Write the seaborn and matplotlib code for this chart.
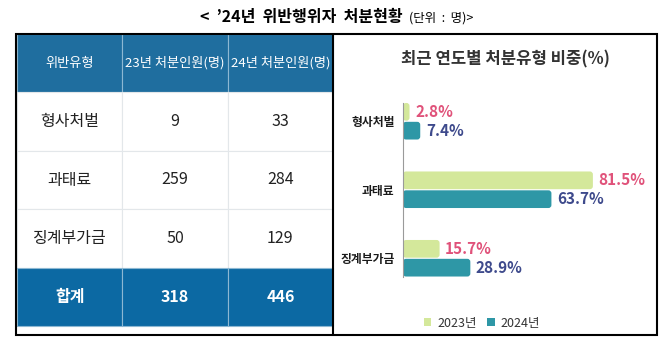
import numpy as np
import pandas as pd
import matplotlib
matplotlib.use('Agg')
import matplotlib.pyplot as plt
import seaborn as sns
from matplotlib.patches import FancyBboxPatch, Rectangle
from matplotlib.lines import Line2D

# data
types = ['형사처벌', '과태료', '징계부가금']
count_2023 = [9, 259, 50]
count_2024 = [33, 284, 129]
total_2023 = 318
total_2024 = 446
share_2023 = [2.8, 81.5, 15.7]
share_2024 = [7.4, 63.7, 28.9]
years = ['2023년', '2024년']
header = ['위반유형', '23년 처분인원(명)', '24년 처분인원(명)']

sns.set_theme(style='white')
plt.rcParams['font.family'] = ['Noto Sans CJK KR', 'DejaVu Sans']

W, H = 669, 350
fig = plt.figure(figsize=(W / 100, H / 100), dpi=100)
fig.patch.set_facecolor('white')


def box(x0, y0, x1, y1):
    # pixel box (top-left origin) -> figure fraction rect
    return [x0 / W, 1 - y1 / H, (x1 - x0) / W, (y1 - y0) / H]


# title
fig.text(403 / W, 1 - 17 / H, "<  \u201924년  위반행위자  처분현황", ha='right', va='center',
         fontsize=11.5, fontweight='bold', color='black')
fig.text(409 / W, 1 - 18 / H, "(단위  :  명)>", ha='left', va='center',
         fontsize=9, color='black')

# ---- table ----
ax_t = fig.add_axes(box(17, 34, 333, 326))
ax_t.axis('off')
rows = [header]
for t, a, b in zip(types, count_2023, count_2024):
    rows.append([t, str(a), str(b)])
rows.append(['합계', str(total_2023), str(total_2024)])
tbl = ax_t.table(cellText=rows, bbox=[0, 0, 1, 1], cellLoc='center')
tbl.auto_set_font_size(False)
head_blue = '#1f6e9f'
total_blue = '#0c69a3'
for (r, c), cell in tbl.get_celld().items():
    if r == 0:
        cell.set_facecolor(head_blue)
        cell.set_edgecolor('#8db8d3')
        cell.get_text().set_color('white')
        cell.get_text().set_fontsize(9.5)
    elif r == len(rows) - 1:
        cell.set_facecolor(total_blue)
        cell.set_edgecolor('#8db8d3')
        cell.get_text().set_color('white')
        cell.get_text().set_fontsize(11.5)
        cell.get_text().set_fontweight('bold')
    else:
        cell.set_facecolor('white')
        cell.set_edgecolor('#e3e7ea')
        cell.get_text().set_color('#222222')
        cell.get_text().set_fontsize(11.5)
    cell.set_linewidth(0.8)

# ---- bar chart ----
ax = fig.add_axes(box(403, 87, 636, 292.5))
df = pd.DataFrame({
    'type': types * 2,
    'year': [years[0]] * 3 + [years[1]] * 3,
    'share': share_2023 + share_2024,
})
bar_colors = ['#d4e89b', '#2e97a6']
label_colors = ['#e0527a', '#3e4a8c']
sns.barplot(data=df, y='type', x='share', hue='year', orient='h', palette=bar_colors,
            width=0.55, gap=0.06, ax=ax, legend=False, saturation=1)
ax.set_xlim(0, 100)
ax.set_ylim(2.5, -0.5)

for cont, col, vals in zip(ax.containers, label_colors, [share_2023, share_2024]):
    ax.bar_label(cont, labels=[f'{v}%' for v in vals], padding=4, color=col,
                 fontsize=11, fontweight='bold')

# round bar ends
fig.canvas.draw()
px_x = ax.transData.transform((1, 0))[0] - ax.transData.transform((0, 0))[0]
px_y = abs(ax.transData.transform((0, 1))[1] - ax.transData.transform((0, 0))[1])
rad = 3.0 / px_x
for p in list(ax.patches):
    x, y, w, h = p.get_x(), p.get_y(), p.get_width(), p.get_height()
    fc = p.get_facecolor()
    p.remove()
    ax.add_patch(FancyBboxPatch((x, y), w, h, boxstyle=f'round,pad=0,rounding_size={rad}',
                                mutation_aspect=px_x / px_y, facecolor=fc, edgecolor='none'))

for s in ['top', 'right', 'bottom']:
    ax.spines[s].set_visible(False)
ax.spines['left'].set_color('#9a9a9a')
ax.spines['left'].set_linewidth(0.8)
ax.spines['left'].set_bounds(-0.27, 2.27)
ax.set_xticks([])
ax.set_xlabel('')
ax.set_ylabel('')
ax.tick_params(axis='y', length=0, pad=6, labelsize=8.5, labelcolor='#1a1a1a')
for lbl in ax.get_yticklabels():
    lbl.set_fontweight('bold')
ax.patch.set_alpha(0)

fig.text(505 / W, 1 - 59 / H, '최근 연도별 처분유형 비중(%)', ha='center', va='center',
         fontsize=12, fontweight='bold', color='#333333')

handles = [Rectangle((0, 0), 1, 1, facecolor=c, edgecolor='none') for c in bar_colors]
fig.legend(handles, years, loc='center', bbox_to_anchor=(482 / W, 1 - 323 / H), ncol=2,
           frameon=False, handlelength=0.6, handleheight=0.6, columnspacing=0.8,
           handletextpad=0.5, fontsize=9, labelcolor='#333333')

# outer frame and divider
fig.patches.append(Rectangle((16 / W, 1 - 335 / H), (657 - 16) / W, (335 - 34) / H,
                             transform=fig.transFigure, fill=False, edgecolor='black',
                             linewidth=1.5))
fig.lines.append(Line2D([333 / W, 333 / W], [1 - 335 / H, 1 - 34 / H],
                        transform=fig.transFigure, color='black', linewidth=1.5))

fig.savefig('out.png', dpi=100)
